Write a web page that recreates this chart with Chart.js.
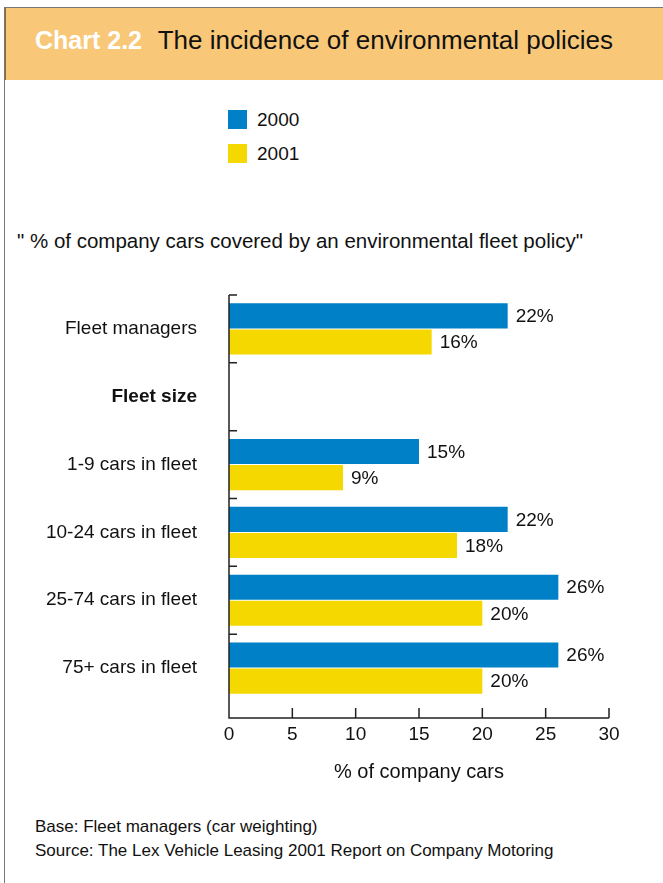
<!DOCTYPE html>
<html lang="en">
<head>
<meta charset="UTF-8">
<title>The incidence of environmental policies</title>
<script src="https://cdn.jsdelivr.net/npm/chart.js"></script>
<style>
    body {
        margin: 0;
        background: #fff;
        font-family: 'Liberation Sans', Arial, sans-serif;
        color: #111;
    }
    .frame {
        position: absolute;
        left: 4px;
        top: 7px;
        width: 665px;
        height: 880px;
        border-left: 1.5px solid #777;
        border-top: 1.5px solid #777;
    }
    .band {
        position: absolute;
        left: 5px;
        top: 8px;
        width: 658px;
        height: 72px;
        background: #f8c878;
        border-left: 1px solid #8a6a30;
    }
    .band h1 {
        position: absolute;
        left: 29px;
        top: 17px;
        margin: 0;
        font-weight: normal;
        font-size: 26px;
        line-height: 30px;
        color: #111;
        white-space: nowrap;
    }
    .band h1 b {
        color: #fff;
        font-size: 25px;
        margin-right: 9px;
    }
    .legend {
        position: absolute;
        left: 228px;
        top: 110px;
        font-size: 19px;
    }
    .legend div {
        height: 19px;
        line-height: 19px;
        margin-bottom: 15px;
        white-space: nowrap;
    }
    .legend span {
        display: inline-block;
        width: 19px;
        height: 19px;
        margin-right: 10px;
        vertical-align: top;
    }
    .subtitle {
        position: absolute;
        left: 17px;
        top: 229px;
        margin: 0;
        font-size: 20.5px;
        line-height: 24px;
        white-space: nowrap;
    }
    .chart-box {
        position: absolute;
        left: 0;
        top: 260px;
        width: 663px;
        height: 540px;
    }
    .notes {
        position: absolute;
        left: 35px;
        top: 815px;
        font-size: 17px;
        line-height: 24px;
        white-space: nowrap;
    }
</style>
</head>
<body>
<div class="frame"></div>
<div class="band"><h1><b>Chart 2.2</b> The incidence of environmental policies</h1></div>
<div class="legend" id="legend"></div>
<p class="subtitle">" % of company cars covered by an environmental fleet policy"</p>
<div class="chart-box"><canvas id="policyChart" width="663" height="540"></canvas></div>
<div class="notes">
    Base: Fleet managers (car weighting)<br>
    Source: The Lex Vehicle Leasing 2001 Report on Company Motoring
</div>
<script>
    const categories = ['Fleet managers', 'Fleet size', '1-9 cars in fleet', '10-24 cars in fleet', '25-74 cars in fleet', '75+ cars in fleet'];
    const years = ['2000', '2001'];
    const share2000 = [22, null, 15, 22, 26, 26];
    const share2001 = [16, null, 9, 18, 20, 20];
    const axisMin = 0;
    const axisMax = 30;
    const axisStep = 5;
    const axisTitle = '% of company cars';

    const blue = '#0080c6';
    const yellow = '#f5d800';
    const FONT = "'Liberation Sans', Arial, sans-serif";

    // legend in html, same names and colours as the datasets
    const legend = document.getElementById('legend');
    [blue, yellow].forEach(function(col, i) {
        legend.innerHTML += '<div><span style="background:' + col + '"></span>' + years[i] + '</div>';
    });

    // axis lines and the short tick marks are drawn by hand:
    // the x axis sits a little below the last group of bars
    const axisPlugin = {
        id: 'axisLines',
        afterDraw(chart) {
            const ctx = chart.ctx;
            const area = chart.chartArea;
            const xs = chart.scales.x;
            const ys = chart.scales.y;
            const base = area.bottom + 16;
            ctx.save();
            ctx.strokeStyle = '#222';
            ctx.lineWidth = 1.5;
            ctx.beginPath();
            ctx.moveTo(area.left, area.top);
            ctx.lineTo(area.left, base);
            ctx.lineTo(area.right, base);
            xs.ticks.forEach(function(t) {
                const px = xs.getPixelForValue(t.value);
                ctx.moveTo(px, base);
                ctx.lineTo(px, base - 10);
            });
            categories.forEach(function(c, i) {
                const py = ys.getPixelForValue(i - 0.5);
                ctx.moveTo(area.left, py);
                ctx.lineTo(area.left + 8, py);
            });
            ctx.stroke();
            ctx.restore();
        }
    };

    // value labels just past the end of each bar
    const valuePlugin = {
        id: 'barValues',
        afterDatasetsDraw(chart) {
            const ctx = chart.ctx;
            ctx.save();
            ctx.font = '19px ' + FONT;
            ctx.fillStyle = '#111';
            ctx.textAlign = 'left';
            ctx.textBaseline = 'middle';
            chart.data.datasets.forEach(function(ds, di) {
                chart.getDatasetMeta(di).data.forEach(function(bar, i) {
                    const v = ds.data[i];
                    if (v === null) return;
                    ctx.fillText(v + '%', bar.x + 8, bar.y + 1);
                });
            });
            ctx.restore();
        }
    };

    new Chart(document.getElementById('policyChart'), {
        type: 'bar',
        data: {
            labels: categories,
            datasets: [{
                label: years[0],
                data: share2000,
                backgroundColor: blue
            }, {
                label: years[1],
                data: share2001,
                backgroundColor: yellow
            }]
        },
        options: {
            indexAxis: 'y',
            responsive: false,
            animation: false,
            categoryPercentage: 0.77,
            barPercentage: 0.96,
            layout: { padding: { top: 35, right: 54, bottom: 0, left: 0 } },
            plugins: {
                legend: { display: false },
                tooltip: { enabled: false }
            },
            scales: {
                x: {
                    min: axisMin,
                    max: axisMax,
                    afterFit(scale) { scale.height = 98; },
                    grid: { display: false, drawTicks: false },
                    border: { display: false },
                    ticks: {
                        stepSize: axisStep,
                        padding: 21,
                        color: '#111',
                        font: { family: FONT, size: 19 }
                    },
                    title: {
                        display: true,
                        text: axisTitle,
                        color: '#111',
                        font: { family: FONT, size: 20 },
                        padding: { top: 0, bottom: 16 }
                    }
                },
                y: {
                    afterFit(scale) {
                        scale.width = 229;
                        // the big label padding should not push the plot down
                        scale.paddingTop = 0;
                        scale.paddingBottom = 0;
                    },
                    grid: { display: false, drawTicks: false },
                    border: { display: false },
                    ticks: {
                        padding: 32,
                        color: '#111',
                        font: function(c) {
                            return { family: FONT, size: 19, weight: c.index === 1 ? 'bold' : 'normal' };
                        }
                    }
                }
            }
        },
        plugins: [axisPlugin, valuePlugin]
    });
</script>
</body>
</html>
